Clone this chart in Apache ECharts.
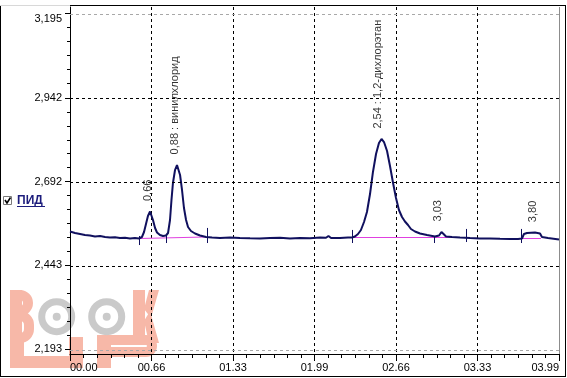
<!DOCTYPE html>
<html>
<head>
<meta charset="utf-8">
<script src="https://cdn.jsdelivr.net/npm/echarts@6/dist/echarts.min.js"></script>
<style>
  html, body { margin: 0; padding: 0; background: #fff; }
  #chart { width: 567px; height: 378px; }
</style>
</head>
<body>
<div id="chart"></div>
<script>
  // axis ticks
  const xTickLabels = ['00.00', '00.66', '01.33', '01.99', '02.66', '03.33', '03.99']
  const yTicks = [2.193, 2.443, 2.692, 2.942, 3.195]
  const yTickLabels = ['2,193', '2,443', '2,692', '2,942', '3,195']

  // detector signal, [time min, value]
  const signal = [
    [0.000, 2.5434], [0.041, 2.5389], [0.082, 2.5359], [0.122, 2.5329], [0.163, 2.5315],
    [0.204, 2.5285], [0.245, 2.5300], [0.286, 2.5270], [0.326, 2.5255], [0.367, 2.5264],
    [0.408, 2.5240], [0.449, 2.5249], [0.490, 2.5225], [0.530, 2.5240], [0.563, 2.5225],
    [0.587, 2.5270], [0.604, 2.5419], [0.620, 2.5657], [0.636, 2.5896], [0.653, 2.6030],
    [0.665, 2.5986], [0.677, 2.5777], [0.694, 2.5538], [0.710, 2.5404], [0.734, 2.5329],
    [0.759, 2.5300], [0.783, 2.5315], [0.800, 2.5389], [0.816, 2.5777], [0.828, 2.6373],
    [0.840, 2.6880], [0.857, 2.7268], [0.873, 2.7417], [0.885, 2.7387], [0.898, 2.7119],
    [0.914, 2.6672], [0.930, 2.6135], [0.947, 2.5777], [0.963, 2.5568], [0.987, 2.5449],
    [1.020, 2.5374], [1.061, 2.5315], [1.110, 2.5270], [1.159, 2.5255], [1.224, 2.5240],
    [1.306, 2.5255], [1.387, 2.5240], [1.469, 2.5231], [1.550, 2.5225], [1.632, 2.5240],
    [1.714, 2.5249], [1.795, 2.5225], [1.877, 2.5240], [1.958, 2.5234], [2.040, 2.5255],
    [2.089, 2.5246], [2.109, 2.5300], [2.130, 2.5240], [2.203, 2.5240], [2.268, 2.5255],
    [2.301, 2.5255], [2.325, 2.5285], [2.350, 2.5359], [2.374, 2.5479], [2.399, 2.5717],
    [2.423, 2.6016], [2.448, 2.6552], [2.472, 2.7209], [2.497, 2.7745], [2.521, 2.8074],
    [2.542, 2.8193], [2.562, 2.8103], [2.587, 2.7835], [2.611, 2.7387], [2.636, 2.6880],
    [2.660, 2.6433], [2.684, 2.6075], [2.709, 2.5866], [2.733, 2.5732], [2.758, 2.5628],
    [2.782, 2.5508], [2.815, 2.5434], [2.856, 2.5374], [2.913, 2.5329], [2.978, 2.5285],
    [3.011, 2.5315], [3.031, 2.5419], [3.048, 2.5359], [3.068, 2.5285], [3.117, 2.5270],
    [3.182, 2.5255], [3.264, 2.5240], [3.345, 2.5228], [3.427, 2.5225], [3.509, 2.5216],
    [3.590, 2.5210], [3.656, 2.5210], [3.688, 2.5225], [3.704, 2.5359], [3.729, 2.5389],
    [3.794, 2.5404], [3.835, 2.5374], [3.851, 2.5270], [3.900, 2.5240], [3.990, 2.5195]
  ]

  // integration baselines
  const baselineSegs = [
    [[0.563, 2.5225], [1.110, 2.5270]],
    [[2.301, 2.5258], [3.223, 2.5255]],
    [[3.680, 2.5240], [3.843, 2.5240]]
  ]

  // peak start/end marks: [time, low, high]
  const peakMarks = [
    [0.565, 2.503, 2.530], [0.783, 2.509, 2.530], [1.115, 2.509, 2.554],
    [2.298, 2.509, 2.548], [2.973, 2.509, 2.527], [3.229, 2.512, 2.551],
    [3.677, 2.509, 2.551]
  ]

  // peak labels: [time, apex value, text]
  const peakLabels = [
    [0.66, 2.603, '0,66'],
    [0.88, 2.742, '0,88 : винилхлорид'],
    [2.54, 2.819, '2,54 : 1,2-дихлорэтан'],
    [3.03, 2.542, '3,03'],
    [3.80, 2.540, '3,80']
  ]

  const yMin = 2.178, yMax = 3.213
  let yMinor = []
  for (let i = 0; i < yTicks.length - 1; i++) {
    let step = (yTicks[i + 1] - yTicks[i]) / 6
    for (let k = 1; k < 6; k++) yMinor.push(yTicks[i] + step * k)
  }

  const font = 'Liberation Sans, Arial, sans-serif'
  const navy = '#10105e'
  const salmon = '#f7b8a8'
  const grey = '#cacaca'

  let chart = echarts.init(document.getElementById('chart'))
  let gridLines = yTicks.map((v, i) => ({
    yAxis: v,
    lineStyle: {
      color: (i === 0 || i === yTicks.length - 1) ? '#a8a8a8' : '#000',
      type: [3, 3], width: 1
    }
  }))
  gridLines.push({xAxis: 3.99, lineStyle: {color: '#8c8c8c', type: 'solid', width: 1}})

  const wm = {z: 0, silent: true}
  let watermark = [
    // B
    {type: 'rect', shape: {x: 10, y: 290, width: 12, height: 53}, style: {fill: salmon}},
    {type: 'rect', shape: {x: 15, y: 295, width: 13, height: 16, r: [0, 8, 8, 0]},
      style: {fill: 'none', stroke: salmon, lineWidth: 10}},
    {type: 'rect', shape: {x: 15, y: 316, width: 14, height: 22, r: [0, 9, 9, 0]},
      style: {fill: 'none', stroke: salmon, lineWidth: 10}},
    // K
    {type: 'rect', shape: {x: 133, y: 290, width: 12, height: 53}, style: {fill: salmon}},
    {type: 'polygon', shape: {points: [[144, 309], [149, 290], [159, 290], [151, 318]]}, style: {fill: salmon}},
    {type: 'polygon', shape: {points: [[144, 321], [150, 311], [159, 343], [149, 343]]}, style: {fill: salmon}},
    // U
    {type: 'rect', shape: {x: 10, y: 337, width: 14, height: 31}, style: {fill: salmon}},
    {type: 'rect', shape: {x: 69, y: 337, width: 14, height: 31}, style: {fill: salmon}},
    {type: 'rect', shape: {x: 10, y: 356, width: 73, height: 12, r: [0, 0, 4, 4]}, style: {fill: salmon}},
    // P
    {type: 'rect', shape: {x: 97, y: 335, width: 14, height: 33}, style: {fill: salmon}},
    {type: 'rect', shape: {x: 104, y: 340, width: 48, height: 12, r: [0, 6, 6, 0]},
      style: {fill: 'none', stroke: salmon, lineWidth: 10}},
    // OO
    {type: 'circle', shape: {cx: 56.7, cy: 316.7, r: 15}, style: {fill: 'none', stroke: grey, lineWidth: 7}},
    {type: 'circle', shape: {cx: 56.7, cy: 316.7, r: 4}, style: {fill: grey}},
    {type: 'circle', shape: {cx: 106.7, cy: 316.7, r: 15}, style: {fill: 'none', stroke: grey, lineWidth: 7}},
    {type: 'circle', shape: {cx: 106.7, cy: 316.7, r: 4}, style: {fill: grey}}
  ].map(g => Object.assign({}, wm, g))

  let option = {
    animation: false,
    backgroundColor: '#fff',
    grid: {left: 70, right: 8, top: 7, bottom: 24},
    xAxis: {
      type: 'value',
      min: 0,
      max: 3.99,
      interval: 0.665,
      axisLine: {lineStyle: {color: '#000', width: 1}},
      axisTick: {show: true, length: 7, lineStyle: {color: '#000'}},
      minorTick: {show: true, splitNumber: 6, length: 4, lineStyle: {color: '#000'}},
      axisLabel: {
        color: '#000', fontSize: 11, fontFamily: font, margin: 8,
        alignMinLabel: 'left', alignMaxLabel: 'right',
        formatter: v => xTickLabels[Math.round(v / 0.665)]
      },
      splitLine: {show: true, showMinLine: false, showMaxLine: false, lineStyle: {color: '#000', type: [3, 3]}}
    },
    yAxis: [
      {type: 'value', min: yMin, max: yMax, show: false},
      {
        type: 'value', min: yMin, max: yMax, position: 'left',
        axisLine: {show: true, lineStyle: {color: '#000'}},
        axisTick: {show: true, length: 5, customValues: yTicks, lineStyle: {color: '#000'}},
        axisLabel: {
          customValues: yTicks, color: '#000', fontSize: 11, fontFamily: font, margin: 8,
          formatter: v => {
            let idx = 0
            yTicks.forEach((t, i) => { if (Math.abs(t - v) < Math.abs(yTicks[idx] - v)) idx = i })
            return idx === yTicks.length - 1 ? '{t|' + yTickLabels[idx] + '}' : yTickLabels[idx]
          },
          rich: {t: {padding: [12, 0, 0, 0], color: '#000', fontSize: 11, fontFamily: font}}
        },
        splitLine: {show: false}
      },
      {
        type: 'value', min: yMin, max: yMax, position: 'left',
        axisLine: {show: false},
        axisTick: {show: true, length: 3, customValues: yMinor, lineStyle: {color: '#000'}},
        axisLabel: {show: false},
        splitLine: {show: false}
      }
    ],
    graphic: watermark.concat([
      // frame
      {type: 'line', shape: {x1: 0.5, y1: 5.5, x2: 0.5, y2: 376.5}, style: {stroke: '#000', lineWidth: 1}},
      {type: 'line', shape: {x1: 0, y1: 376.5, x2: 566, y2: 376.5}, style: {stroke: '#000', lineWidth: 1}},
      {type: 'line', shape: {x1: 565.5, y1: 5.5, x2: 565.5, y2: 377}, style: {stroke: '#000', lineWidth: 1}},
      {type: 'line', shape: {x1: 70, y1: 5.5, x2: 566, y2: 5.5}, style: {stroke: '#000', lineWidth: 1}},
      {type: 'line', shape: {x1: 0, y1: 5.5, x2: 70, y2: 5.5}, style: {stroke: '#d8d8d8', lineWidth: 1}},
      // legend checkbox
      {type: 'rect', shape: {x: 3.5, y: 196.5, width: 8, height: 8},
        style: {fill: '#fff', stroke: '#7a7a7a', lineWidth: 1}},
      {type: 'polyline', shape: {points: [[5, 200], [7, 203], [10.5, 197.5]]},
        style: {stroke: '#000', lineWidth: 1.6, fill: 'none'}},
      {type: 'text', x: 17, y: 200.5,
        style: {text: 'ПИД', font: 'bold 12px ' + font, fill: '#1c1c7c', verticalAlign: 'middle'}},
      {type: 'line', shape: {x1: 17, y1: 206.5, x2: 45, y2: 206.5}, style: {stroke: '#1c1c7c', lineWidth: 1}}
    ]),
    series: [
      {
        name: 'baseline', type: 'lines', coordinateSystem: 'cartesian2d', z: 3,
        data: baselineSegs.map(c => ({coords: c})),
        lineStyle: {color: '#e040e0', width: 1, opacity: 1},
        silent: true
      },
      {
        name: 'ПИД', type: 'line', data: signal, showSymbol: false, z: 4,
        lineStyle: {color: navy, width: 2}, silent: true,
        markLine: {
          silent: true, symbol: 'none', label: {show: false},
          data: gridLines
        }
      },
      {
        name: 'marks', type: 'custom', z: 5, silent: true,
        encode: {x: 0, y: [1, 2]},
        data: peakMarks,
        renderItem: (params, api) => {
          let p1 = api.coord([api.value(0), api.value(1)])
          let p2 = api.coord([api.value(0), api.value(2)])
          return {
            type: 'line',
            shape: {x1: Math.round(p1[0]) + 0.5, y1: p1[1], x2: Math.round(p2[0]) + 0.5, y2: p2[1]},
            style: {stroke: navy, lineWidth: 1}
          }
        }
      },
      {
        name: 'labels', type: 'scatter', z: 6, silent: true,
        symbolSize: 1,
        itemStyle: {color: 'rgba(0,0,0,0)'},
        data: peakLabels.map(p => ({value: [p[0], p[1]], name: p[2]})),
        label: {
          show: true, position: 'top', distance: 10, rotate: 90,
          align: 'left', verticalAlign: 'middle', offset: [0, -3],
          formatter: p => p.name,
          color: '#000', fontSize: 11, fontFamily: font
        }
      }
    ]
  }
  chart.setOption(option)
</script>
</body>
</html>
